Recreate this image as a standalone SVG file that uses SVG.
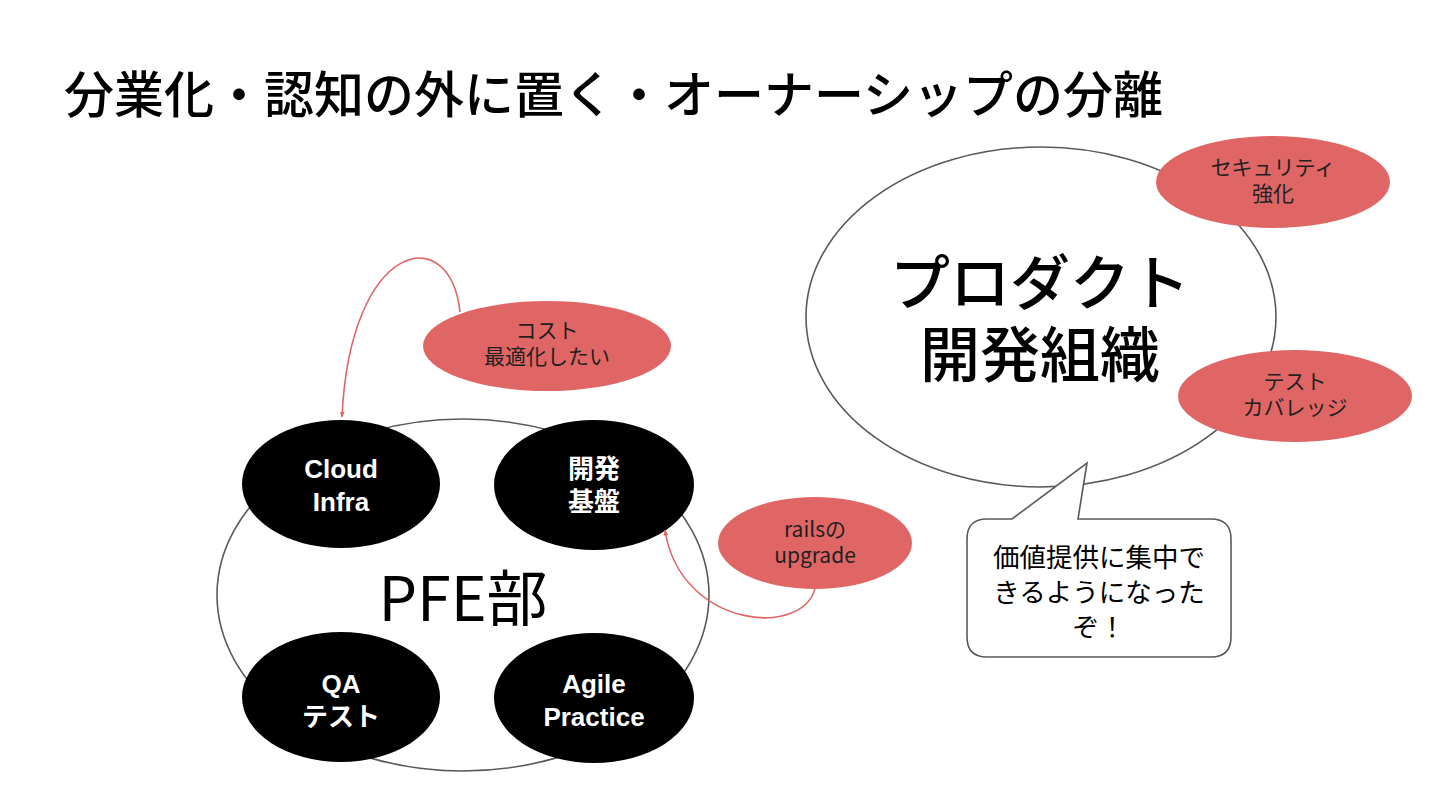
<svg xmlns="http://www.w3.org/2000/svg" width="1440" height="810" viewBox="0 0 1440 810">
<defs>
<style>
.cjk{font-family:"Noto Sans CJK JP",sans-serif;}
.outline{fill:#fff;stroke:#595959;stroke-width:1.6;}
.blk{fill:#000;}
.red{fill:#e06666;}
.wt{fill:#fff;font-weight:bold;font-size:26px;text-anchor:middle;font-family:"Liberation Sans","Noto Sans CJK JP",sans-serif;}
.rt{fill:#1f1f1f;font-size:21px;text-anchor:middle;font-family:"Noto Sans CJK JP",sans-serif;}
.bt{fill:#000;font-size:26.5px;text-anchor:middle;font-family:"Noto Sans CJK JP",sans-serif;}
.conn{fill:none;stroke:#e06666;stroke-width:1.6;marker-end:url(#ah);}
</style>
<marker id="ah" viewBox="0 0 10 10" refX="9" refY="5" markerWidth="6" markerHeight="6" orient="auto-start-reverse" markerUnits="userSpaceOnUse">
<path d="M0 1 L10 5 L0 9 Z" fill="#e06666"/>
</marker>
</defs>
<rect width="1440" height="810" fill="#fff"/>
<text x="64" y="113" class="cjk" font-size="50" font-weight="500" fill="#000">分業化・認知の外に置く・オーナーシップの分離</text>

<g id="pfe">
<ellipse cx="463" cy="595" rx="246" ry="176" class="outline"/>
<text x="463" y="621" class="cjk" font-size="61" text-anchor="middle" fill="#000">PFE部</text>
</g>
<g id="cloud-infra">
<ellipse cx="341" cy="484" rx="99" ry="64" class="blk"/>
<text x="341" y="478" class="wt">Cloud</text>
<text x="341" y="511" class="wt">Infra</text>
</g>
<g id="kaihatsu-kiban">
<ellipse cx="594" cy="485" rx="100" ry="65" class="blk"/>
<text x="594" y="478" class="wt">開発</text>
<text x="594" y="511" class="wt">基盤</text>
</g>
<g id="qa-test">
<ellipse cx="341" cy="697" rx="99" ry="65" class="blk"/>
<text x="341" y="693" class="wt">QA</text>
<text x="341" y="726" class="wt">テスト</text>
</g>
<g id="agile-practice">
<ellipse cx="594" cy="698" rx="100" ry="65" class="blk"/>
<text x="594" y="693" class="wt">Agile</text>
<text x="594" y="726" class="wt">Practice</text>
</g>
<g id="cost">
<ellipse cx="547" cy="346" rx="124" ry="45" class="red"/>
<text x="547" y="338" class="rt">コスト</text>
<text x="547" y="364" class="rt">最適化したい</text>
</g>
<g id="rails">
<ellipse cx="815" cy="543" rx="97" ry="46" class="red"/>
<text x="815" y="537" class="rt">railsの</text>
<text x="815" y="563" class="rt">upgrade</text>
</g>

<g id="product">
<ellipse cx="1041" cy="317" rx="235" ry="170" class="outline"/>
<text x="1040" y="305" class="cjk" font-size="60" font-weight="500" text-anchor="middle" fill="#000">プロダクト</text>
<text x="1040" y="377" class="cjk" font-size="60" font-weight="500" text-anchor="middle" fill="#000">開発組織</text>
</g>
<g id="security">
<ellipse cx="1273" cy="182" rx="117" ry="46" class="red"/>
<text x="1273" y="175" class="rt">セキュリティ</text>
<text x="1273" y="201" class="rt">強化</text>
</g>
<g id="coverage">
<ellipse cx="1295" cy="396" rx="117" ry="46" class="red"/>
<text x="1295" y="389" class="rt">テスト</text>
<text x="1295" y="415" class="rt">カバレッジ</text>
</g>
<g id="bubble">
<path d="M987 519 L1012 519 L1087 463 L1078 519 L1211 519 Q1231 519 1231 539 L1231 637 Q1231 657 1211 657 L987 657 Q967 657 967 637 L967 539 Q967 519 987 519 Z" class="outline"/>
<text x="1099" y="567" class="bt">価値提供に集中で</text>
<text x="1099" y="602" class="bt">きるようになった</text>
<text x="1099" y="637" class="bt">ぞ！</text>
</g>

<g id="connectors">
<path d="M460 312 C450 220 350 240 342 417" class="conn"/>
<path d="M816 583 C810 640 680 630 665 530" class="conn"/>
</g>
</svg>
